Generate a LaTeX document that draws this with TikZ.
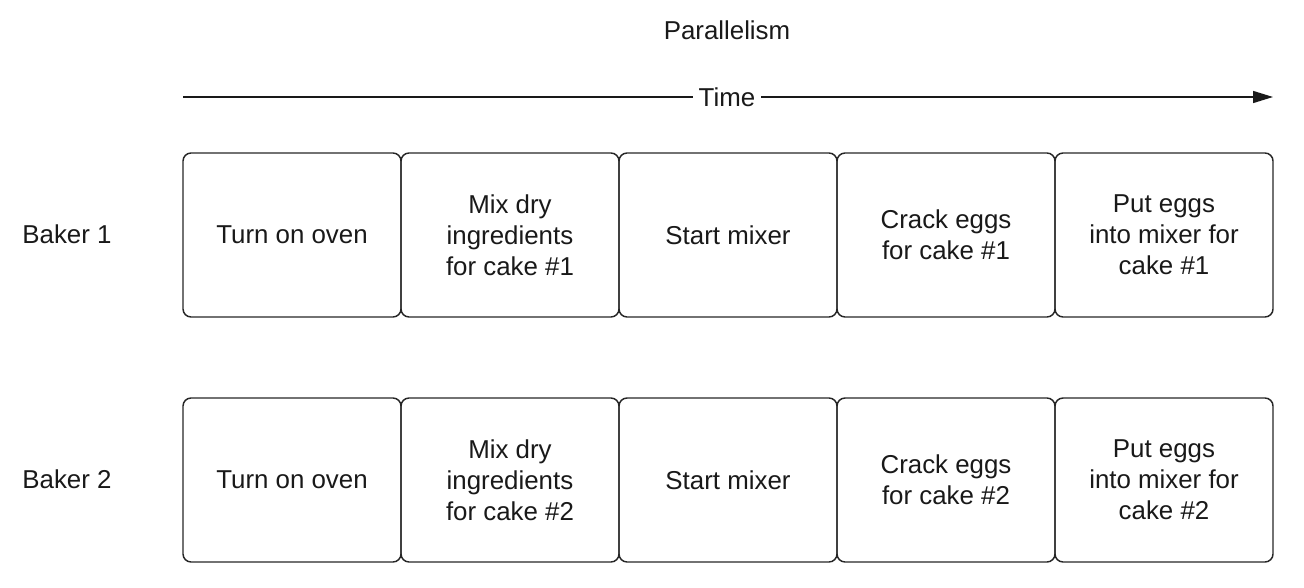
\documentclass[tikz,border=0pt]{standalone}
\usepackage{fontspec}
\setmainfont{Liberation Sans}
\usetikzlibrary{arrows.meta}
\begin{document}
\begin{tikzpicture}[x=0.75pt,y=-0.75pt,
  task/.style={draw=black!85,line width=1.1pt,rounded corners=6pt,minimum width=218*0.75pt,minimum height=164*0.75pt,inner sep=0pt,align=center,text=black!90,font=\fontsize{19.4}{23.3}\selectfont},
  lbl/.style={text=black!90,font=\fontsize{19.4}{23.3}\selectfont}]
\useasboundingbox (0,0) rectangle (1304,588);
\node[lbl] (title) at (727,30) {Parallelism};
\coordinate (ts) at (183,97);
\coordinate (te) at (1273,97);
\draw[line width=1.1pt,draw=black!90,-{Triangle[length=15pt,width=9pt]}] (ts) -- (te);
\node[lbl,fill=white,inner xsep=4pt] (time) at (727,97) {Time};
\node[lbl] (b1) at (67,234) {Baker 1};
\node[lbl] (b2) at (67,479) {Baker 2};
\node[task] (a1) at (292,235) {Turn on oven};
\node[task] (a2) at (510,235) {Mix dry\\ingredients\\for cake \#1};
\node[task] (a3) at (728,235) {Start mixer};
\node[task] (a4) at (946,235) {Crack eggs\\for cake \#1};
\node[task] (a5) at (1164,235) {Put eggs\\into mixer for\\cake \#1};
\node[task] (c1) at (292,480) {Turn on oven};
\node[task] (c2) at (510,480) {Mix dry\\ingredients\\for cake \#2};
\node[task] (c3) at (728,480) {Start mixer};
\node[task] (c4) at (946,480) {Crack eggs\\for cake \#2};
\node[task] (c5) at (1164,480) {Put eggs\\into mixer for\\cake \#2};
\end{tikzpicture}
\end{document}
